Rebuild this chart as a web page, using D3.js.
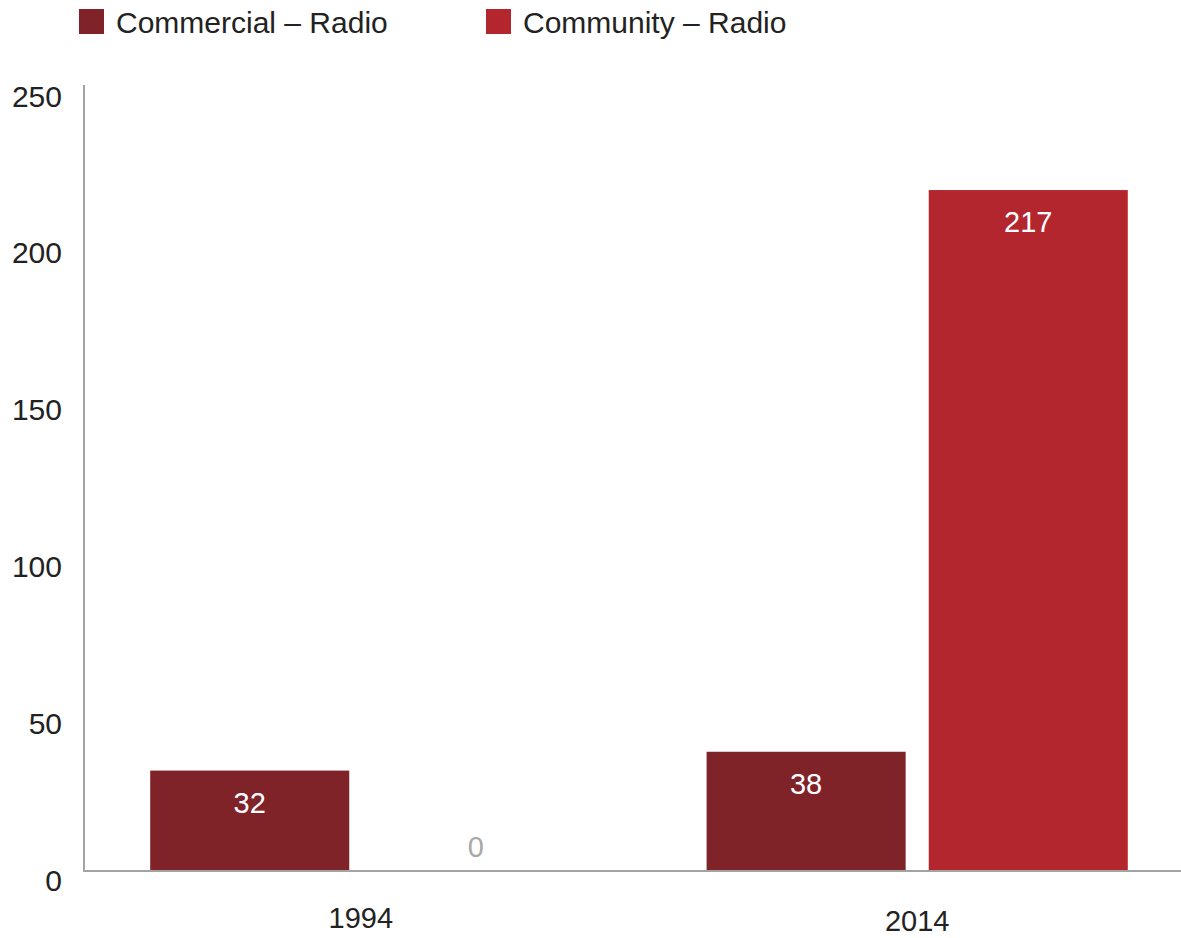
<!DOCTYPE html>
<html>
<head>
<meta charset="utf-8">
<script src="https://cdn.jsdelivr.net/npm/d3@7"></script>
<style>
  html, body { margin: 0; padding: 0; background: #fff; }
  svg { display: block; font-family: "Liberation Sans", Arial, sans-serif; }
</style>
</head>
<body>
<svg id="chart" width="1181" height="938"></svg>
<script>
// Number of licensed radio stations by type
const years = ["1994", "2014"];
const seriesNames = ["Commercial – Radio", "Community – Radio"];
const commercial = [32, 38];
const community = [0, 217];
const yTicks = [0, 50, 100, 150, 200, 250];

const colors = ["#7f2329", "#b3262e"];

const svg = d3.select("#chart");
const W = 1181, H = 938;
const plotLeft = 84, plotBottom = 871, plotTop = 86.5;

const y = d3.scaleLinear().domain([0, 250]).range([plotBottom, plotTop]);
const x0 = d3.scaleBand().domain(years).range([plotLeft, 1194])
  .paddingInner(0.243).paddingOuter(0.119);
const x1 = d3.scaleBand().domain(seriesNames).range([0, x0.bandwidth()])
  .paddingInner(0.104);

const rows = years.map((yr, i) => ({
  year: yr,
  values: [
    { name: seriesNames[0], value: commercial[i], idx: 0 },
    { name: seriesNames[1], value: community[i], idx: 1 }
  ]
}));

// Y axis: labels only, plus a plain vertical rule
const yAxis = d3.axisLeft(y).tickValues(yTicks).tickSize(0).tickPadding(0);
const gy = svg.append("g").attr("transform", `translate(62,0)`).call(yAxis);
gy.select(".domain").remove();
gy.selectAll("text")
  .attr("font-size", 30)
  .attr("fill", "#222")
  .attr("font-family", "Liberation Sans, Arial, sans-serif")
  .attr("y", 9)
  .attr("dy", "0.35em");

// Groups of bars
const groups = svg.append("g").selectAll("g")
  .data(rows).join("g")
  .attr("transform", d => `translate(${x0(d.year)},0)`);

groups.selectAll("rect")
  .data(d => d.values).join("rect")
  .attr("x", d => x1(d.name))
  .attr("width", x1.bandwidth())
  .attr("y", d => y(d.value))
  .attr("height", d => y(0) - y(d.value))
  .attr("fill", d => colors[d.idx]);

groups.selectAll("text.val")
  .data(d => d.values).join("text")
  .attr("class", "val")
  .attr("x", d => x1(d.name) + x1.bandwidth() / 2 + (d.value === 0 ? 4 : 0))
  .attr("y", d => d.value === 0 ? y(0) - 14 : y(d.value) + 42)
  .attr("text-anchor", "middle")
  .attr("font-size", 29)
  .attr("fill", d => d.value === 0 ? "#a8a8a8" : "#fff")
  .text(d => d.value);

// Axis rules
svg.append("line")
  .attr("x1", plotLeft).attr("x2", plotLeft)
  .attr("y1", 85).attr("y2", plotBottom)
  .attr("stroke", "#a3a3a3").attr("stroke-width", 2);
svg.append("line")
  .attr("x1", plotLeft - 1).attr("x2", W)
  .attr("y1", plotBottom).attr("y2", plotBottom)
  .attr("stroke", "#a3a3a3").attr("stroke-width", 2);

// X axis labels
const xAxis = d3.axisBottom(x0).tickSize(0).tickPadding(0);
const gx = svg.append("g").attr("transform", `translate(0,${plotBottom})`).call(xAxis);
gx.select(".domain").remove();
gx.selectAll("text")
  .attr("font-size", 29)
  .attr("fill", "#222")
  .attr("font-family", "Liberation Sans, Arial, sans-serif")
  .attr("dy", 0)
  .attr("y", (d, i) => 57 + i * 3);

// Legend
const legendX = [79, 486];
const legend = svg.append("g").selectAll("g")
  .data(seriesNames).join("g")
  .attr("transform", (d, i) => `translate(${legendX[i]},9)`);
legend.append("rect")
  .attr("width", 25).attr("height", 25)
  .attr("fill", (d, i) => colors[i]);
legend.append("text")
  .attr("x", 37).attr("y", 24)
  .attr("font-size", 30)
  .attr("fill", "#222")
  .text(d => d);
</script>
</body>
</html>
